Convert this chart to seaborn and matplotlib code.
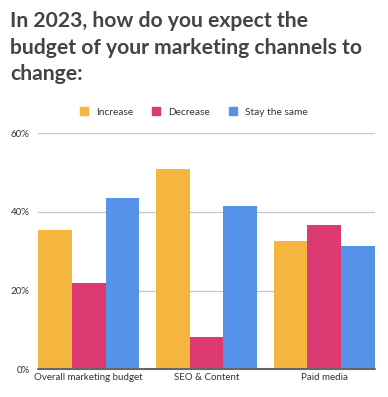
import matplotlib
matplotlib.use("Agg")
import matplotlib.pyplot as plt
import seaborn as sns
import pandas as pd
from matplotlib.patches import Rectangle

categories = ["Overall marketing budget", "SEO & Content", "Paid media"]
series = ["Increase", "Decrease", "Stay the same"]
increase = [35.4, 51.0, 32.6]
decrease = [22.0, 8.2, 36.7]
stay_same = [43.6, 41.5, 31.4]
yticks = [0, 20, 40, 60]
ytick_labels = ["0%", "20%", "40%", "60%"]
colors = ["#F4B63E", "#DD3A74", "#5592E8"]

rows = []
for s, vals in zip(series, [increase, decrease, stay_same]):
    for c, v in zip(categories, vals):
        rows.append({"category": c, "series": s, "value": v})
df = pd.DataFrame(rows)

sns.set_style("white")
plt.rcParams["font.family"] = ["Lato", "DejaVu Sans"]

fig = plt.figure(figsize=(3.88, 3.97), dpi=100)
ax = fig.add_axes([38/388, 1-369.3/397, (375-38)/388, (369.3-133.3)/397])

sns.barplot(data=df, x="category", y="value", hue="series", order=categories,
            hue_order=series, palette=colors, width=0.86, gap=0, saturation=1,
            edgecolor="none", linewidth=0, ax=ax, legend=False, errorbar=None)

ax.set_xlim(-0.43, 2.43)
ax.set_ylim(0, 60)
ax.set_yticks(yticks)
ax.set_yticklabels(ytick_labels)
ax.yaxis.grid(True, color="#c8c8c8", linewidth=1)
ax.set_axisbelow(True)
for sp in ax.spines.values():
    sp.set_visible(False)
ax.axhline(0, color="#666666", linewidth=1.5, zorder=5, clip_on=False)
ax.tick_params(axis="both", length=0, labelsize=7, colors="#333333")
ax.tick_params(axis="y", pad=6)
ax.tick_params(axis="x", pad=3)
ax.set_xlabel("")
ax.set_ylabel("")

fig.text(10/388, 1-11/397, "In 2023, how do you expect the\nbudget of your marketing channels to\nchange:",
         fontsize=15.2, fontweight="bold", color="#444444", va="top", ha="left",
         linespacing=1.42)

# legend
handles = [Rectangle((0, 0), 1, 1, color=c) for c in colors]
fig.legend(handles, series, loc="center", bbox_to_anchor=(0.5, 1-112/397), ncol=3,
           frameon=False, fontsize=7.3, handlelength=0.8, handleheight=0.8,
           handletextpad=0.8, columnspacing=1.85, labelcolor="#333333")

fig.savefig("out.png", dpi=100)
